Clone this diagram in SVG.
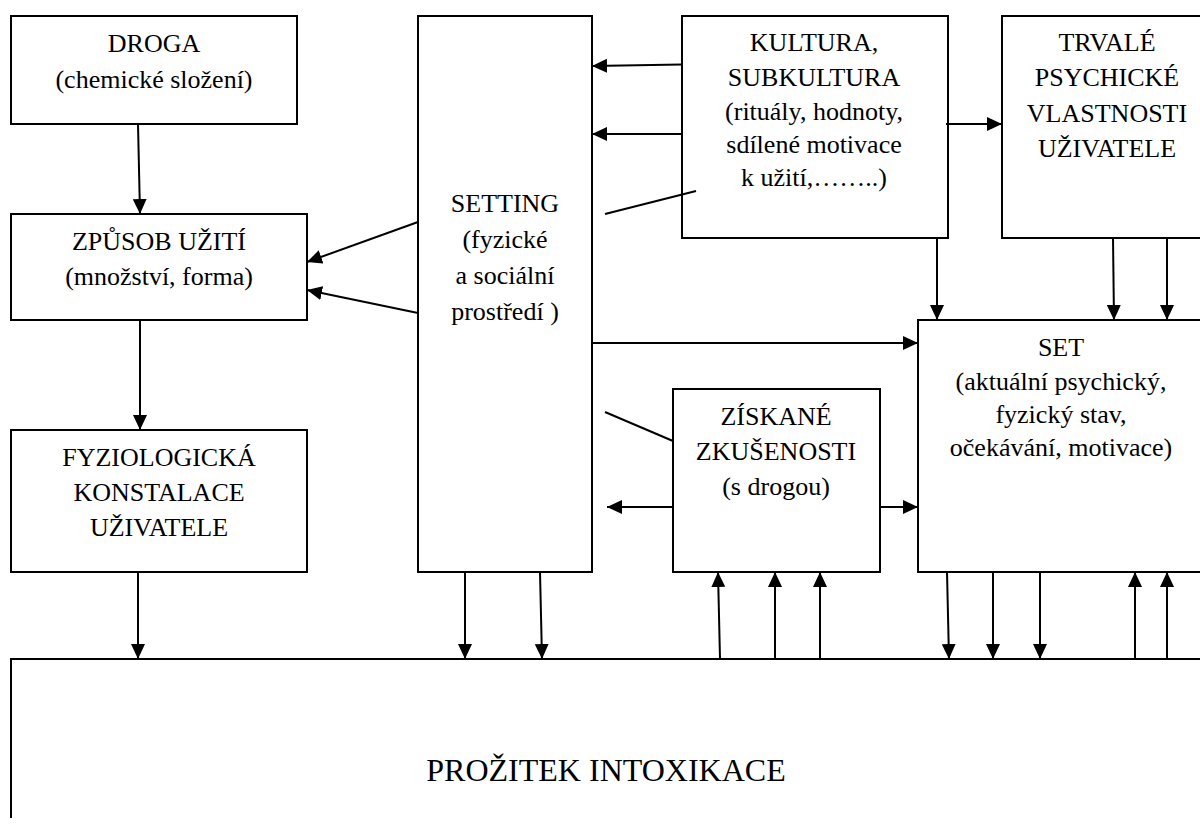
<svg xmlns="http://www.w3.org/2000/svg" width="1200" height="827" viewBox="0 0 1200 827">
<defs>
<style>
.box{fill:#fff;stroke:#000;stroke-width:2}
.ln{fill:none;stroke:#000;stroke-width:2}
.t{font-family:"Liberation Serif","Times New Roman",Times,"DejaVu Serif",serif;font-size:26px;fill:#000;text-anchor:middle}
.big{font-size:32px}
</style>
<marker id="ah" viewBox="0 0 15 14" refX="15" refY="7" markerWidth="15" markerHeight="14" markerUnits="userSpaceOnUse" orient="auto">
<path d="M0,0 L15,7 L0,14 Z" fill="#000"/>
</marker>
</defs>
<rect width="1200" height="827" fill="#fff"/>

<g id="intoxikace">
<path class="ln" d="M1210,659 H11 V818"/>
<text class="t big" x="606" y="781">PROŽITEK INTOXIKACE</text>
</g>

<g id="droga">
<rect class="box" x="11" y="16" width="286" height="108"/>
<text class="t" x="154" y="52">DROGA</text>
<text class="t" x="154" y="88">(chemické složení)</text>
</g>

<g id="zpusob">
<rect class="box" x="11" y="214" width="296" height="106"/>
<text class="t" x="159" y="250">ZPŮSOB UŽITÍ</text>
<text class="t" x="159" y="285">(množství, forma)</text>
</g>

<g id="fyziologicka">
<rect class="box" x="11" y="430" width="296" height="142"/>
<text class="t" x="159" y="466">FYZIOLOGICKÁ</text>
<text class="t" x="159" y="501">KONSTALACE</text>
<text class="t" x="159" y="536">UŽIVATELE</text>
</g>

<g id="setting">
<rect class="box" x="418" y="16" width="174" height="556"/>
<text class="t" x="505" y="212">SETTING</text>
<text class="t" x="505" y="248">(fyzické</text>
<text class="t" x="505" y="284">a sociální</text>
<text class="t" x="505" y="320">prostředí )</text>
</g>

<g id="kultura">
<rect class="box" x="682" y="16" width="266" height="222"/>
<text class="t" x="814" y="51">KULTURA,</text>
<text class="t" x="814" y="86">SUBKULTURA</text>
<text class="t" x="814" y="120">(rituály, hodnoty,</text>
<text class="t" x="814" y="153">sdílené motivace</text>
<text class="t" x="814" y="186">k užití,……..)</text>
</g>

<g id="trvale">
<path class="box" d="M1210,16 H1002 V238 H1210"/>
<text class="t" x="1107" y="51">TRVALÉ</text>
<text class="t" x="1107" y="86">PSYCHICKÉ</text>
<text class="t" x="1107" y="122">VLASTNOSTI</text>
<text class="t" x="1107" y="157">UŽIVATELE</text>
</g>

<g id="set">
<path class="box" d="M1210,320 H918 V572 H1210"/>
<text class="t" x="1061" y="356">SET</text>
<text class="t" x="1061" y="390">(aktuální psychický,</text>
<text class="t" x="1061" y="423">fyzický stav,</text>
<text class="t" x="1061" y="456">očekávání, motivace)</text>
</g>

<g id="ziskane">
<rect class="box" x="673" y="389" width="207" height="183"/>
<text class="t" x="776" y="425">ZÍSKANÉ</text>
<text class="t" x="776" y="460">ZKUŠENOSTI</text>
<text class="t" x="776" y="495">(s drogou)</text>
</g>

<g id="connectors">
<line class="ln" x1="138" y1="124" x2="140" y2="214" marker-end="url(#ah)"/>
<line class="ln" x1="140" y1="320" x2="140" y2="430" marker-end="url(#ah)"/>
<line class="ln" x1="138" y1="572" x2="138" y2="659" marker-end="url(#ah)"/>
<line class="ln" x1="418" y1="222" x2="307" y2="262" marker-end="url(#ah)"/>
<line class="ln" x1="418" y1="313" x2="307" y2="290" marker-end="url(#ah)"/>
<line class="ln" x1="682" y1="64.5" x2="592" y2="66" marker-end="url(#ah)"/>
<line class="ln" x1="682" y1="134" x2="592" y2="134" marker-end="url(#ah)"/>
<line class="ln" x1="605" y1="214" x2="696" y2="191"/>
<line class="ln" x1="946" y1="124" x2="1002" y2="124" marker-end="url(#ah)"/>
<line class="ln" x1="937" y1="238" x2="937" y2="320" marker-end="url(#ah)"/>
<line class="ln" x1="1113" y1="238" x2="1114" y2="320" marker-end="url(#ah)"/>
<line class="ln" x1="1167" y1="238" x2="1167" y2="320" marker-end="url(#ah)"/>
<line class="ln" x1="592" y1="343" x2="918" y2="343" marker-end="url(#ah)"/>
<line class="ln" x1="605" y1="412" x2="673" y2="441"/>
<line class="ln" x1="673" y1="507" x2="607" y2="507" marker-end="url(#ah)"/>
<line class="ln" x1="880" y1="507" x2="918" y2="507" marker-end="url(#ah)"/>
<line class="ln" x1="465" y1="572" x2="465" y2="659" marker-end="url(#ah)"/>
<line class="ln" x1="540" y1="572" x2="542" y2="659" marker-end="url(#ah)"/>
<line class="ln" x1="720" y1="659" x2="718" y2="572" marker-end="url(#ah)"/>
<line class="ln" x1="775" y1="659" x2="775" y2="572" marker-end="url(#ah)"/>
<line class="ln" x1="820" y1="659" x2="820" y2="572" marker-end="url(#ah)"/>
<line class="ln" x1="947" y1="572" x2="949" y2="659" marker-end="url(#ah)"/>
<line class="ln" x1="993" y1="572" x2="993" y2="659" marker-end="url(#ah)"/>
<line class="ln" x1="1040" y1="572" x2="1040" y2="659" marker-end="url(#ah)"/>
<line class="ln" x1="1135" y1="659" x2="1135" y2="572" marker-end="url(#ah)"/>
<line class="ln" x1="1167" y1="659" x2="1167" y2="572" marker-end="url(#ah)"/>
</g>
</svg>
